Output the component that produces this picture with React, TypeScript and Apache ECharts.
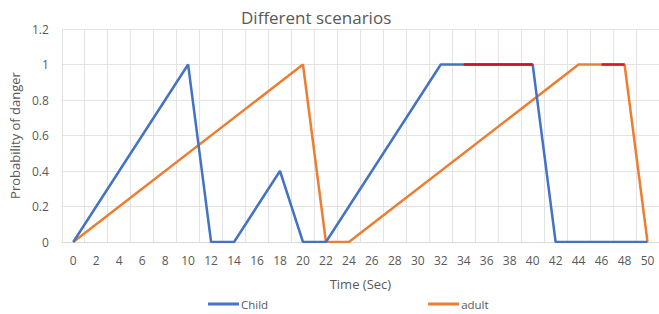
import React, { useEffect, useRef } from "react";
import * as echarts from "echarts";

const categories = ["0","2","4","6","8","10","12","14","16","18","20","22","24","26","28","30","32","34","36","38","40","42","44","46","48","50"];

const childX = [0, 10, 12, 14, 18, 20, 22, 32, 34, 40, 42, 50];
const childY = [0, 1, 0, 0, 0.4, 0, 0, 1, 1, 1, 0, 0];

const adultX = [0, 20, 22, 24, 44, 46, 48, 50];
const adultY = [0, 1, 0, 0, 1, 1, 1, 0];

const childDangerX = [34, 40];
const childDangerY = [1, 1];
const adultDangerX = [46, 48];
const adultDangerY = [1, 1];

const pairs = (xs: number[], ys: number[]) => xs.map((x, i) => [String(x), ys[i]]);

const FONT = "Open Sans";
const TXT = "#595959";

export default function App() {
  const ref = useRef<HTMLDivElement>(null);
  useEffect(() => {
    const chart = echarts.init(ref.current!, null, { renderer: "svg" });
    chart.setOption({
      animation: false,
      textStyle: { fontFamily: FONT, color: TXT },
      title: {
        text: "Different scenarios",
        left: 236,
        top: 4,
        textStyle: { fontFamily: FONT, fontSize: 17, fontWeight: "normal", color: TXT },
      },
      legend: {
        data: ["Child", "adult"],
        left: 203,
        top: 293,
        itemWidth: 31,
        itemHeight: 3,
        itemGap: 160,
        icon: "rect",
        textStyle: { fontFamily: FONT, fontSize: 11.5, color: TXT, padding: [0, 0, 0, -3] },
      },
      grid: { left: 56, top: 29, width: 606, bottom: 72, containLabel: false },
      xAxis: {
        type: "category",
        data: categories,
        boundaryGap: true,
        name: "Time (Sec)",
        nameLocation: "middle",
        nameGap: 35,
        nameTextStyle: { fontFamily: FONT, fontSize: 13, color: TXT },
        axisLine: { lineStyle: { color: "#d9d9d9" } },
        axisTick: { show: false },
        axisLabel: { interval: 0, fontFamily: FONT, fontSize: 12, color: TXT, margin: 12 },
        splitLine: { show: true, interval: 0, lineStyle: { color: "#e3e3e3" } },
      },
      yAxis: {
        type: "value",
        min: 0,
        max: 1.2,
        interval: 0.2,
        name: "Probability of danger",
        nameLocation: "middle",
        nameRotate: 90,
        nameGap: 40,
        nameTextStyle: { fontFamily: FONT, fontSize: 13, color: TXT },
        axisLine: { show: false },
        axisTick: { show: false },
        axisLabel: {
          fontFamily: FONT,
          fontSize: 12,
          color: TXT,
          margin: 13,
          formatter: (v: number) => String(Math.round(v * 10) / 10),
        },
        splitLine: { lineStyle: { color: "#e3e3e3" } },
      },
      series: [
        {
          name: "Child",
          type: "line",
          data: pairs(childX, childY),
          showSymbol: false,
          symbol: "none",
          lineStyle: { color: "#4472C4", width: 2.5 },
          itemStyle: { color: "#4472C4" },
          z: 3,
        },
        {
          name: "adult",
          type: "line",
          data: pairs(adultX, adultY),
          showSymbol: false,
          symbol: "none",
          lineStyle: { color: "#ED7D31", width: 2.5 },
          itemStyle: { color: "#ED7D31" },
          z: 2,
        },
        {
          name: "Child danger",
          type: "line",
          data: pairs(childDangerX, childDangerY),
          showSymbol: false,
          symbol: "none",
          lineStyle: { color: "#C9151E", width: 2.5 },
          z: 4,
        },
        {
          name: "adult danger",
          type: "line",
          data: pairs(adultDangerX, adultDangerY),
          showSymbol: false,
          symbol: "none",
          lineStyle: { color: "#E3141C", width: 2.5 },
          z: 4,
        },
      ],
    });
    return () => chart.dispose();
  }, []);
  return (
    <div
      ref={ref}
      style={{ position: "fixed", left: 0, top: 0, width: 659, height: 314, background: "#ffffff" }}
    />
  );
}
